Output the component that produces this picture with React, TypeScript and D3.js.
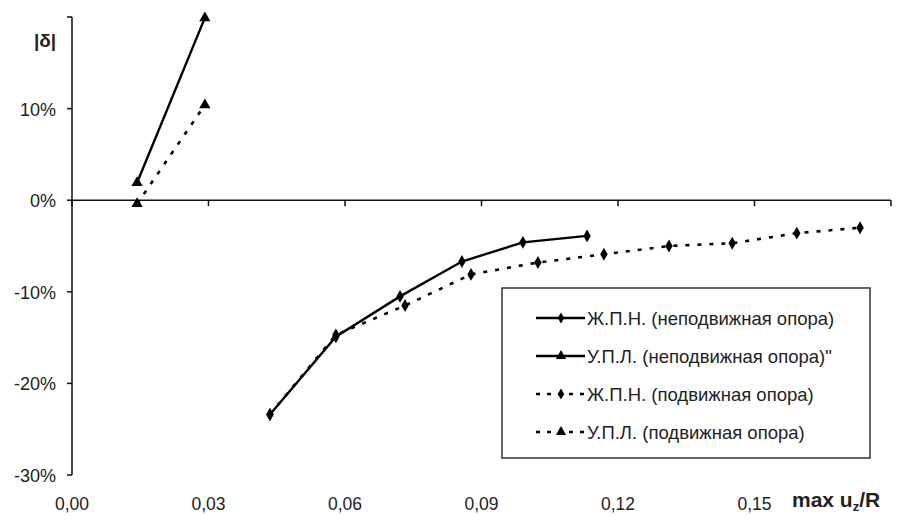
import React, { useEffect, useRef } from 'react';
import * as d3 from 'd3';

// x = max u_z / R, y = |δ|
const xTri = [0.0143, 0.0292];
const yTriFixed = [0.019, 0.199];
const yTriMoving = [-0.004, 0.104];

const xDiaFixed = [0.0435, 0.058, 0.0721, 0.0857, 0.0991, 0.1132];
const yDiaFixed = [-0.234, -0.149, -0.105, -0.067, -0.046, -0.039];

const xDiaMoving = [0.0435, 0.058, 0.0732, 0.0877, 0.1024, 0.1169, 0.1312, 0.1451, 0.1593, 0.1732];
const yDiaMoving = [-0.234, -0.147, -0.115, -0.081, -0.068, -0.059, -0.05, -0.047, -0.036, -0.03];

const xTicks = [0, 0.03, 0.06, 0.09, 0.12, 0.15, 0.18];
const xTickLabels = ['0,00', '0,03', '0,06', '0,09', '0,12', '0,15'];
const yTicks = [-0.3, -0.2, -0.1, 0, 0.1, 0.2];
const yTickLabels = ['-30%', '-20%', '-10%', '0%', '10%', ''];

const seriesNames = [
  'Ж.П.Н. (неподвижная опора)',
  'У.П.Л. (неподвижная опора)"',
  'Ж.П.Н. (подвижная опора)',
  'У.П.Л. (подвижная опора)',
];

function Chart() {
  const ref = useRef(null);

  useEffect(() => {
    const width = 909;
    const height = 516;
    const font = 'Liberation Sans, Arial, sans-serif';

    const svg = d3.select(ref.current);
    svg.selectAll('*').remove();

    const x = d3.scaleLinear().domain([0, 0.18]).range([72, 891]);
    const y = d3.scaleLinear().domain([-0.3, 0.2]).range([475, 17]);

    svg.append('rect').attr('width', width).attr('height', height).attr('fill', '#fff');

    // y axis
    const yAxis = svg.append('g');
    yAxis
      .append('line')
      .attr('x1', x(0))
      .attr('x2', x(0))
      .attr('y1', y(0.2))
      .attr('y2', y(-0.3))
      .attr('stroke', '#111')
      .attr('stroke-width', 1.5);
    yAxis
      .selectAll('line.tick')
      .data(yTicks)
      .join('line')
      .attr('class', 'tick')
      .attr('x1', x(0) - 5)
      .attr('x2', x(0))
      .attr('y1', (d) => y(d))
      .attr('y2', (d) => y(d))
      .attr('stroke', '#111')
      .attr('stroke-width', 1.5);
    yAxis
      .selectAll('text')
      .data(yTicks)
      .join('text')
      .attr('x', 56)
      .attr('y', (d) => y(d) + 7)
      .attr('text-anchor', 'end')
      .attr('font-family', font)
      .attr('font-size', 18)
      .attr('fill', '#222')
      .text((d, i) => yTickLabels[i]);

    // x axis along 0%
    const xAxis = svg.append('g');
    xAxis
      .append('line')
      .attr('x1', x(0))
      .attr('x2', x(0.18))
      .attr('y1', y(0))
      .attr('y2', y(0))
      .attr('stroke', '#111')
      .attr('stroke-width', 1.5);
    xAxis
      .selectAll('line.tick')
      .data(xTicks)
      .join('line')
      .attr('class', 'tick')
      .attr('x1', (d) => x(d))
      .attr('x2', (d) => x(d))
      .attr('y1', y(0))
      .attr('y2', y(0) + 6)
      .attr('stroke', '#111')
      .attr('stroke-width', 1.5);
    xAxis
      .selectAll('text')
      .data(xTickLabels)
      .join('text')
      .attr('x', (d, i) => x(xTicks[i]))
      .attr('y', 510)
      .attr('text-anchor', 'middle')
      .attr('font-family', font)
      .attr('font-size', 17.5)
      .attr('fill', '#222')
      .text((d) => d);

    // axis titles
    svg
      .append('text')
      .attr('x', 45)
      .attr('y', 47)
      .attr('text-anchor', 'middle')
      .attr('font-family', font)
      .attr('font-size', 19)
      .attr('font-weight', 'bold')
      .attr('fill', '#222')
      .text('|δ|');
    const xt = svg
      .append('text')
      .attr('x', 792)
      .attr('y', 507)
      .attr('font-family', font)
      .attr('font-size', 21)
      .attr('font-weight', 'bold')
      .attr('fill', '#222');
    xt.append('tspan').text('max u');
    xt.append('tspan').attr('font-size', 13).attr('dy', 4).text('z');
    xt.append('tspan').attr('dy', -4).text('/R');

    const line = d3
      .line<[number, number]>()
      .x((d) => x(d[0]))
      .y((d) => y(d[1]));

    const series = [
      { xs: xDiaFixed, ys: yDiaFixed, dash: null, symbol: d3.symbolDiamond },
      { xs: xTri, ys: yTriFixed, dash: null, symbol: d3.symbolTriangle },
      { xs: xDiaMoving, ys: yDiaMoving, dash: '4 8', symbol: d3.symbolDiamond },
      { xs: xTri, ys: yTriMoving, dash: '4 8', symbol: d3.symbolTriangle },
    ];

    const plot = svg.append('g');
    series.forEach((s) => {
      const pts = s.xs.map((v, i) => [v, s.ys[i]] as [number, number]);
      plot
        .append('path')
        .attr('d', line(pts))
        .attr('fill', 'none')
        .attr('stroke', '#000')
        .attr('stroke-width', s.dash ? 2.6 : 2.4)
        .attr('stroke-dasharray', s.dash);
      plot
        .append('g')
        .selectAll('path')
        .data(pts)
        .join('path')
        .attr('transform', (d) => `translate(${x(d[0])},${y(d[1])})`)
        .attr('d', d3.symbol().type(s.symbol).size(s.symbol === d3.symbolTriangle ? 55 : 48)())
        .attr('fill', '#000');
    });

    // legend
    const lg = svg.append('g');
    lg.append('rect')
      .attr('x', 502)
      .attr('y', 288)
      .attr('width', 368)
      .attr('height', 170)
      .attr('fill', '#fff')
      .attr('stroke', '#333')
      .attr('stroke-width', 1.5);
    const rowY = d3.scalePoint().domain(seriesNames).range([318, 432]);
    series.forEach((s, i) => {
      const cy = rowY(seriesNames[i]);
      lg.append('line')
        .attr('x1', 536)
        .attr('x2', 585)
        .attr('y1', cy)
        .attr('y2', cy)
        .attr('stroke', '#000')
        .attr('stroke-width', s.dash ? 2.6 : 2.4)
        .attr('stroke-dasharray', s.dash ? '4 7' : null);
      lg.append('path')
        .attr('transform', `translate(561,${cy})`)
        .attr('d', d3.symbol().type(s.symbol).size(s.symbol === d3.symbolTriangle ? 45 : 36)())
        .attr('fill', '#000');
      lg.append('text')
        .attr('x', 587)
        .attr('y', cy + 6.5)
        .attr('font-family', font)
        .attr('font-size', 18.5)
        .attr('fill', '#222')
        .text(seriesNames[i]);
    });
  }, []);

  return (
    <svg
      ref={ref}
      width={909}
      height={516}
      style={{ position: 'absolute', left: 0, top: 0 }}
    />
  );
}

export default function App() {
  return <Chart />;
}
